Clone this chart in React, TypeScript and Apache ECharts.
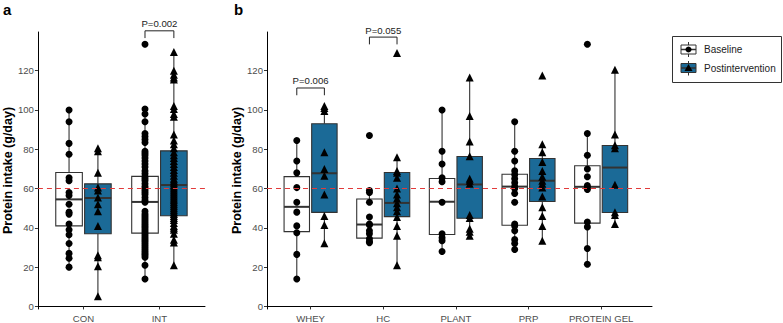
import React, { useEffect, useRef } from "react";
import * as echarts from "echarts";

// ---------- categories & ticks ----------
const panelACategories = ["CON", "INT"];
const panelBCategories = ["WHEY", "HC", "PLANT", "PRP", "PROTEIN GEL"];
const yTicks = [0, 20, 40, 60, 80, 100, 120];
const recommendedIntake = 60;

// ---------- raw points (g/day) ----------
const conBaseline = [100, 94, 83, 77.5, 65.5, 64, 58, 56.5, 52, 48, 47, 42, 39, 36.5, 32, 27, 24.5, 20];
const conPost = [80.5, 79, 68, 60.5, 59, 55.5, 52, 48.5, 41, 26, 25, 20.5, 5.2];
const intBaseline = [133.5, 100.5, 98, 94, 88, 86.5, 85, 83.5, 79, 78, 77, 75.5, 74, 72.5, 71, 69, 67.5, 66, 65, 64, 62.5, 61, 60, 59, 58, 57, 55.5, 54, 53, 48.5, 47, 46, 45, 44, 43, 42, 41, 40, 39, 38, 37, 36, 35, 34, 33, 32, 31, 30, 29, 28, 27, 26, 25, 21, 14];
const intPost = [129.5, 120, 118, 116.5, 115.5, 102, 100.5, 98, 96.5, 87.5, 84.5, 82.5, 80.5, 78.5, 77, 75.5, 74, 72.5, 71, 69.5, 68, 66.5, 65, 64, 63, 62, 61, 60, 59, 58, 57, 56, 55, 54, 53, 52, 51, 50, 49, 48, 47, 46, 45, 44, 42.5, 41, 40, 39, 37, 34, 32.5, 21];

const wheyBaseline = [84.5, 74, 68, 60.5, 53, 48, 41, 37.5, 26.5, 14];
const wheyPost = [102, 101, 99.5, 78.5, 70, 66.5, 57, 46, 41.5, 32.2];
const hcBaseline = [87, 59, 58, 53, 45.5, 42, 41.5, 38.5, 37, 34.5, 33, 32.5];
const hcPost = [129, 76, 69, 68, 65.5, 60, 57, 55, 52.5, 50.5, 48.5, 45.5, 41, 36, 21];
const plantBaseline = [100, 79, 72.5, 65.5, 63.5, 53, 37, 35, 33.5, 28];
const plantPost = [116.5, 97, 84, 76.5, 65, 64, 62.5, 46.5, 45, 39.5, 38, 36];
const prpBaseline = [94, 79, 74, 69, 67, 65, 63, 61, 60, 57.5, 53, 42, 41, 38.5, 34, 32, 29];
const prpPost = [117.5, 82.5, 78.5, 73.5, 69, 66, 64, 62.5, 60.5, 56, 50.5, 46, 41, 33.5];
const gelBaseline = [133.5, 88, 77, 70, 66, 61.5, 60.5, 59.5, 43, 40.5, 29.5, 21.5];
const gelPost = [120.5, 87.5, 82, 80.5, 62, 48, 46.5, 42];

// ---------- box statistics [lower whisker, Q1, median, Q3, upper whisker] ----------
const conBaselineBox = [20, 41, 54.5, 68.2, 100];
const conPostBox = [5.2, 37, 55.2, 62.4, 80.5];
const intBaselineBox = [14, 37.3, 53.2, 66.2, 100.5];
const intPostBox = [20.6, 46.2, 61.8, 79.2, 129.4];
const wheyBaselineBox = [14, 38.1, 50.7, 66.1, 84.5];
const wheyPostBox = [32.2, 47.9, 67.8, 93, 102];
const hcBaselineBox = [32.5, 34.8, 41.7, 54.7, 59.2];
const hcPostBox = [21, 45.7, 52.7, 68.2, 76];
const plantBaselineBox = [28, 36.6, 53.3, 65.1, 100];
const plantPostBox = [36, 44.9, 62.1, 76.3, 116.5];
const prpBaselineBox = [29, 41.3, 61, 67.3, 94];
const prpPostBox = [33.5, 53.4, 64, 75.3, 82.5];
const gelBaselineBox = [21.5, 42.4, 60.9, 71.6, 88];
const gelPostBox = [42, 47.8, 70.7, 81.9, 120.5];

// ---------- significance annotations ----------
const sigLabelsA = ["P=0.002"];
const sigCategoryA = [2];
const sigHeightA = [140.3];
const sigLabelsB = ["P=0.006", "P=0.055"];
const sigCategoryB = [1, 2];
const sigHeightB = [111.2, 137.1];

const baselinePointsA = [conBaseline, intBaseline];
const postPointsA = [conPost, intPost];
const baselineBoxesA = [conBaselineBox, intBaselineBox];
const postBoxesA = [conPostBox, intPostBox];
const baselinePointsB = [wheyBaseline, hcBaseline, plantBaseline, prpBaseline, gelBaseline];
const postPointsB = [wheyPost, hcPost, plantPost, prpPost, gelPost];
const baselineBoxesB = [wheyBaselineBox, hcBaselineBox, plantBaselineBox, prpBaselineBox, gelBaselineBox];
const postBoxesB = [wheyPostBox, hcPostBox, plantPostBox, prpPostBox, gelPostBox];

// ---------- style ----------
const FONT = '"Liberation Sans", Arial, sans-serif';
const BLUE = "#1b6a97";
const EDGE = "#333333";
const DODGE = 0.19;
const BOX_W = 0.35;
const LEG = 3.7;

function boxData(baseBoxes: number[][], postBoxes: number[][]) {
  const rows: number[][] = [];
  baseBoxes.forEach((b, i) => rows.push([i + 1 - DODGE, ...b, 0]));
  postBoxes.forEach((b, i) => rows.push([i + 1 + DODGE, ...b, 1]));
  return rows;
}

function pointData(groups: number[][], offset: number) {
  const rows: number[][] = [];
  groups.forEach((g, i) => g.forEach((v) => rows.push([i + 1 + offset, v])));
  return rows;
}

function renderBox(params: any, api: any) {
  const x = api.value(0);
  const low = api.value(1);
  const q1 = api.value(2);
  const med = api.value(3);
  const q3 = api.value(4);
  const high = api.value(5);
  const kind = api.value(6);
  const w = api.size([BOX_W, 0])[0];
  const pLow = api.coord([x, low]);
  const pQ1 = api.coord([x, q1]);
  const pMed = api.coord([x, med]);
  const pQ3 = api.coord([x, q3]);
  const pHigh = api.coord([x, high]);
  return {
    type: "group",
    children: [
      { type: "line", shape: { x1: pHigh[0], y1: pHigh[1], x2: pQ3[0], y2: pQ3[1] }, style: { stroke: EDGE, lineWidth: 1.1 } },
      { type: "line", shape: { x1: pQ1[0], y1: pQ1[1], x2: pLow[0], y2: pLow[1] }, style: { stroke: EDGE, lineWidth: 1.1 } },
      {
        type: "rect",
        shape: { x: pQ3[0] - w / 2, y: pQ3[1], width: w, height: pQ1[1] - pQ3[1] },
        style: { fill: kind === 0 ? "#ffffff" : BLUE, stroke: EDGE, lineWidth: 1.1 },
      },
      { type: "line", shape: { x1: pMed[0] - w / 2, y1: pMed[1], x2: pMed[0] + w / 2, y2: pMed[1] }, style: { stroke: EDGE, lineWidth: 2 } },
    ],
  };
}

function makeBracketRenderer(labels: string[]) {
  return (params: any, api: any) => {
    const x1 = api.value(0);
    const x2 = api.value(1);
    const top = api.value(2);
    const leg = api.value(3);
    const a = api.coord([x1, leg]);
    const b = api.coord([x1, top]);
    const c = api.coord([x2, top]);
    const d = api.coord([x2, leg]);
    return {
      type: "group",
      children: [
        { type: "polyline", shape: { points: [a, b, c, d] }, style: { stroke: "#222", fill: null, lineWidth: 1 } },
        {
          type: "text",
          x: (b[0] + c[0]) / 2,
          y: b[1] - 2,
          style: { text: labels[params.dataIndex], fill: "#222", font: `9.6px ${FONT}`, align: "center", verticalAlign: "bottom" },
        },
      ],
    };
  };
}

function bracketData(cats: number[], heights: number[]) {
  return cats.map((c, i) => [c - DODGE, c + DODGE, heights[i], heights[i] - LEG]);
}

function yAxisFor(gridIndex: number) {
  return {
    type: "value",
    gridIndex,
    min: -1.3,
    max: 139.7,
    axisLine: { show: true, lineStyle: { color: "#000", width: 1 } },
    axisTick: { show: true, length: 3, lineStyle: { color: "#333" }, customValues: yTicks },
    axisLabel: { customValues: yTicks, color: "#4d4d4d", fontSize: 9.6, fontFamily: FONT, margin: 4 },
    splitLine: { show: false },
    name: "Protein intake (g/day)",
    nameLocation: "middle",
    nameGap: 17,
    nameTextStyle: { fontWeight: "bold", fontSize: 12.5, color: "#000", fontFamily: FONT },
  };
}

function xAxisFor(gridIndex: number, cats: string[], max: number) {
  const ticks = cats.map((_, i) => i + 1);
  return {
    type: "value",
    gridIndex,
    min: 0.4,
    max,
    axisLine: { show: true, lineStyle: { color: "#000", width: 1 } },
    axisTick: { show: true, length: 3, lineStyle: { color: "#333" }, customValues: ticks },
    axisLabel: {
      customValues: ticks,
      formatter: (v: number) => cats[Math.round(v) - 1] ?? "",
      color: "#4d4d4d",
      fontSize: 9.6,
      fontFamily: FONT,
      margin: 4,
    },
    splitLine: { show: false },
  };
}

const refLine = {
  silent: true,
  symbol: "none",
  label: { show: false },
  lineStyle: { color: "#e23b3b", type: [5, 4], width: 1 },
  data: [{ yAxis: recommendedIntake }],
};

export default function App() {
  const ref = useRef<HTMLDivElement>(null);
  useEffect(() => {
    if (!ref.current) return;
    const chart = echarts.init(ref.current, undefined, { renderer: "svg" });
    const option: any = {
      animation: false,
      backgroundColor: "#ffffff",
      textStyle: { fontFamily: FONT },
      grid: [
        { left: 35, top: 32, width: 170, height: 278.6 },
        { left: 267, top: 32, width: 385, height: 278.6 },
      ],
      xAxis: [xAxisFor(0, panelACategories, 2.6), xAxisFor(1, panelBCategories, 5.7)],
      yAxis: [yAxisFor(0), yAxisFor(1)],
      series: [
        {
          type: "custom",
          xAxisIndex: 0,
          yAxisIndex: 0,
          renderItem: renderBox,
          encode: { x: 0, y: [1, 2, 3, 4, 5] },
          data: boxData(baselineBoxesA, postBoxesA),
          z: 2,
          markLine: refLine,
        },
        {
          type: "custom",
          xAxisIndex: 1,
          yAxisIndex: 1,
          renderItem: renderBox,
          encode: { x: 0, y: [1, 2, 3, 4, 5] },
          data: boxData(baselineBoxesB, postBoxesB),
          z: 2,
          markLine: refLine,
        },
        { type: "scatter", xAxisIndex: 0, yAxisIndex: 0, symbol: "circle", symbolSize: 7, itemStyle: { color: "#000", opacity: 1 }, data: pointData(baselinePointsA, -DODGE), z: 3 },
        { type: "scatter", xAxisIndex: 0, yAxisIndex: 0, symbol: "triangle", symbolSize: 8, itemStyle: { color: "#000", opacity: 1 }, data: pointData(postPointsA, DODGE), z: 3 },
        { type: "scatter", xAxisIndex: 1, yAxisIndex: 1, symbol: "circle", symbolSize: 7, itemStyle: { color: "#000", opacity: 1 }, data: pointData(baselinePointsB, -DODGE), z: 3 },
        { type: "scatter", xAxisIndex: 1, yAxisIndex: 1, symbol: "triangle", symbolSize: 8, itemStyle: { color: "#000", opacity: 1 }, data: pointData(postPointsB, DODGE), z: 3 },
        {
          type: "custom",
          xAxisIndex: 0,
          yAxisIndex: 0,
          clip: false,
          renderItem: makeBracketRenderer(sigLabelsA),
          encode: { x: [0, 1], y: [2, 3] },
          data: bracketData(sigCategoryA, sigHeightA),
          z: 4,
        },
        {
          type: "custom",
          xAxisIndex: 1,
          yAxisIndex: 1,
          clip: false,
          renderItem: makeBracketRenderer(sigLabelsB),
          encode: { x: [0, 1], y: [2, 3] },
          data: bracketData(sigCategoryB, sigHeightB),
          z: 4,
        },
      ],
      graphic: [
        { type: "text", left: 3, top: 2, style: { text: "a", font: `bold 15px ${FONT}`, fill: "#000" } },
        { type: "text", left: 234, top: 2, style: { text: "b", font: `bold 15px ${FONT}`, fill: "#000" } },
        // legend
        { type: "rect", shape: { x: 672.5, y: 36.5, width: 109, height: 46 }, style: { fill: "#fff", stroke: "#333", lineWidth: 1 } },
        { type: "line", shape: { x1: 688.5, y1: 42, x2: 688.5, y2: 57 }, style: { stroke: EDGE, lineWidth: 1 } },
        { type: "rect", shape: { x: 681, y: 45, width: 15, height: 9 }, style: { fill: "#fff", stroke: EDGE, lineWidth: 1 } },
        { type: "line", shape: { x1: 681, y1: 49.5, x2: 696, y2: 49.5 }, style: { stroke: EDGE, lineWidth: 1.5 } },
        { type: "circle", shape: { cx: 688.5, cy: 49.5, r: 3 }, style: { fill: "#000" } },
        { type: "line", shape: { x1: 688.5, y1: 61, x2: 688.5, y2: 75.5 }, style: { stroke: EDGE, lineWidth: 1 } },
        { type: "rect", shape: { x: 681, y: 63.5, width: 15, height: 9 }, style: { fill: BLUE, stroke: EDGE, lineWidth: 1 } },
        { type: "line", shape: { x1: 681, y1: 68, x2: 696, y2: 68 }, style: { stroke: EDGE, lineWidth: 1.5 } },
        { type: "polygon", shape: { points: [[688.5, 64], [692.5, 71], [684.5, 71]] }, style: { fill: "#000" } },
        { type: "text", x: 704, y: 49.5, style: { text: "Baseline", font: `10px ${FONT}`, fill: "#222", verticalAlign: "middle" } },
        { type: "text", x: 704, y: 68, style: { text: "Postintervention", font: `10px ${FONT}`, fill: "#222", verticalAlign: "middle" } },
      ],
    };
    chart.setOption(option);
    return () => chart.dispose();
  }, []);
  return <div ref={ref} style={{ position: "absolute", left: 0, top: 0, width: 783, height: 323 }} />;
}
